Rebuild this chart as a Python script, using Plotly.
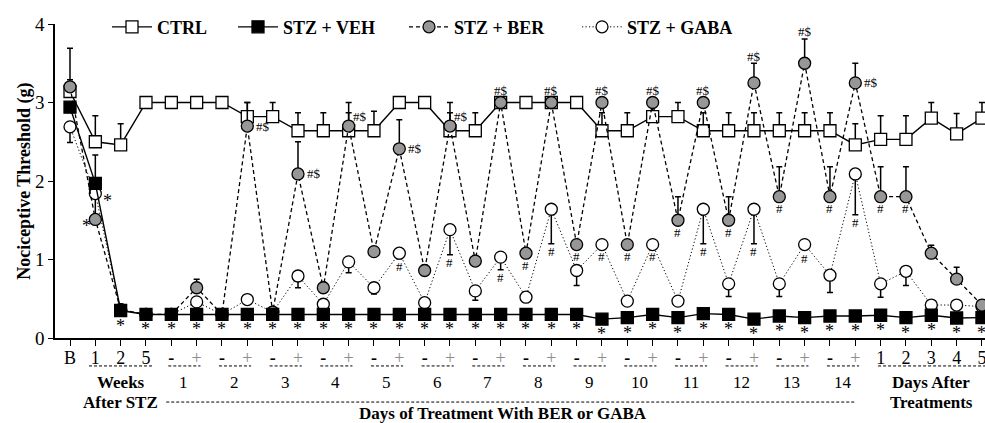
import plotly.graph_objects as go

# ---------------- data ----------------
x_labels = ["B", "1", "2", "5"] + ["-", "+"] * 14 + ["1", "2", "3", "4", "5"]
idx = list(range(len(x_labels)))

ctrl = [3.14, 2.50, 2.46, 3.00, 3.00, 3.00, 3.00, 2.82, 2.82, 2.64, 2.64, 2.64, 2.64,
        3.00, 3.00, 2.64, 2.64, 3.00, 3.00, 3.00, 3.00, 2.64, 2.64, 2.82, 2.82, 2.64,
        2.64, 2.64, 2.64, 2.64, 2.64, 2.46, 2.53, 2.53, 2.80, 2.60, 2.80]
ctrl_err = [0.15, 0.33, 0.27, 0, 0, 0, 0, 0.18, 0.18, 0.23, 0.23, 0.23, 0.25,
            0, 0, 0.23, 0.23, 0, 0, 0, 0, 0.23, 0.23, 0.18, 0.18, 0.23,
            0.23, 0.23, 0.23, 0.23, 0.23, 0.27, 0.30, 0.30, 0.20, 0.26, 0.20]

veh = [2.94, 1.97, 0.35, 0.30, 0.30, 0.30, 0.30, 0.30, 0.30, 0.30, 0.30, 0.30, 0.30,
       0.30, 0.30, 0.30, 0.30, 0.30, 0.30, 0.30, 0.30, 0.24, 0.26, 0.30, 0.26, 0.31,
       0.30, 0.24, 0.28, 0.26, 0.28, 0.28, 0.29, 0.26, 0.29, 0.255, 0.26]
veh_err = [0, 0.36] + [0] * 35

ber = [3.20, 1.51, 0.36, 0.30, 0.30, 0.64, 0.30, 2.70, 0.33, 2.09, 0.64, 2.70, 1.10,
       2.41, 0.86, 2.70, 0.98, 3.00, 1.08, 3.00, 1.19, 3.00, 1.19, 3.00, 1.50, 3.00,
       1.50, 3.25, 1.80, 3.50, 1.80, 3.25, 1.80, 1.80, 1.08, 0.75, 0.42]
ber_err = [0.49, 0, 0, 0, 0, 0.11, 0, 0.30, 0, 0.41, 0.07, 0.30, 0.05,
           0.37, 0.07, 0.30, 0.07, 0, 0.05, 0, 0, 0, 0, 0, 0.30, 0,
           0.30, 0.25, 0.38, 0.31, 0.38, 0.25, 0.38, 0.38, 0.10, 0.15, 0]

gaba = [2.69, 1.84, 0.36, 0.30, 0.30, 0.46, 0.30, 0.49, 0.33, 0.79, 0.43, 0.97, 0.64,
        1.08, 0.45, 1.38, 0.60, 1.03, 0.52, 1.64, 0.86, 1.19, 0.47, 1.19, 0.47, 1.64,
        0.69, 1.64, 0.69, 1.19, 0.80, 2.09, 0.69, 0.85, 0.42, 0.42, 0.40]
gaba_err = [0.20, 0.30, 0, 0, 0, 0, 0, 0, 0, 0.15, 0, 0.14, 0.08,
            0.07, 0, 0.32, 0.12, 0.16, 0, 0.44, 0.19, 0, 0, 0, 0, 0.44,
            0.16, 0.44, 0.16, 0.03, 0.22, 0.52, 0.17, 0.18, 0, 0, 0]

# significance labels: (index, text, placement)
ber_marks = [(7, "#$", "r"), (9, "#$", "r"), (11, "#$", "tr"), (13, "#$", "r"),
             (15, "#$", "tr"), (17, "#$", "t"), (19, "#$", "t"), (21, "#$", "t"),
             (23, "#$", "t"), (25, "#$", "t"), (27, "#$", "t"), (29, "#$", "t"),
             (31, "#$", "r"), (18, "#", "b"), (20, "#", "b"), (22, "#", "b"),
             (24, "#", "b"), (26, "#", "b"), (28, "#", "b"), (30, "#", "b"),
             (32, "#", "b"), (33, "#", "b")]
gaba_marks = [13, 15, 17, 19, 21, 23, 25, 27, 29, 31]
veh_star_from = 2

week_idx = [1, 2, 3]
day_names = [str(d) for d in range(1, 15)]
after_idx = [32, 33, 34, 35, 36]

SERIF = "Liberation Serif, Times New Roman, serif"
GRAY = "#979797"

# ---------------- figure ----------------
fig = go.Figure()
zeros = [0] * len(idx)

fig.add_trace(go.Scatter(
    x=idx, y=ctrl, mode="lines+markers", name="CTRL", legend="legend",
    line=dict(color="black", width=1.4),
    marker=dict(symbol="square", size=12, color="white", line=dict(color="black", width=1.3)),
    error_y=dict(type="data", symmetric=False, array=ctrl_err, arrayminus=zeros,
                 color="black", thickness=1.5, width=3),
    cliponaxis=False))

fig.add_trace(go.Scatter(
    x=idx, y=gaba, mode="lines+markers", name="STZ + GABA", legend="legend4",
    line=dict(color="black", width=1, dash="1.2px,2.3px"),
    marker=dict(symbol="circle", size=12, color="white", line=dict(color="black", width=1.3)),
    error_y=dict(type="data", symmetric=False, array=zeros, arrayminus=gaba_err,
                 color="black", thickness=1.5, width=3),
    cliponaxis=False))

fig.add_trace(go.Scatter(
    x=idx, y=ber, mode="lines+markers", name="STZ + BER", legend="legend3",
    line=dict(color="black", width=1.3, dash="4px,3px"),
    marker=dict(symbol="circle", size=12, color=GRAY, line=dict(color="black", width=1.3)),
    error_y=dict(type="data", symmetric=False, array=ber_err, arrayminus=zeros,
                 color="black", thickness=1.5, width=3),
    cliponaxis=False))

fig.add_trace(go.Scatter(
    x=idx, y=veh, mode="lines+markers", name="STZ + VEH", legend="legend2",
    line=dict(color="black", width=1.4),
    marker=dict(symbol="square", size=12, color="black", line=dict(color="black", width=1.3)),
    error_y=dict(type="data", symmetric=False, array=veh_err, arrayminus=zeros,
                 color="black", thickness=1.5, width=3),
    cliponaxis=False))

# ---------------- annotations ----------------
ann = []
small = dict(family=SERIF, size=13, color="black")

for i, txt, pos in ber_marks:
    if pos == "r":
        ann.append(dict(x=i, y=ber[i], text=txt, xanchor="left", yanchor="middle",
                        xshift=7, yshift=0, font=small))
    elif pos == "tr":
        ann.append(dict(x=i, y=ber[i], text=txt, xanchor="left", yanchor="middle",
                        xshift=2, yshift=10, font=small))
    elif pos == "t":
        ann.append(dict(x=i, y=ber[i] + ber_err[i], text=txt, xanchor="center", yanchor="middle",
                        yshift=12 if ber_err[i] == 0 else 7, font=small))
    else:
        ann.append(dict(x=i, y=ber[i], text=txt, xanchor="center", yanchor="middle",
                        yshift=-12, font=small))

for i in gaba_marks:
    ann.append(dict(x=i, y=gaba[i] - gaba_err[i], text="#", xanchor="center", yanchor="middle",
                    yshift=-12 if gaba_err[i] < 0.05 else -8, font=small))

star = dict(family=SERIF, size=18, color="black")
for i in idx[veh_star_from:]:
    ann.append(dict(x=i, y=veh[i], text="*", xanchor="center", yanchor="middle",
                    yshift=-15, font=star))
ann.append(dict(x=1, y=gaba[1], text="*", xanchor="center", yanchor="middle",
                xshift=12, yshift=-7, font=star))
ann.append(dict(x=1, y=ber[1], text="*", xanchor="center", yanchor="middle",
                xshift=-9, yshift=-7, font=star))

# group labels under the x axis
big = dict(family=SERIF, size=17, color="black")
bold = dict(family=SERIF, size=17, color="black", weight="bold")
Y_DASH, Y_ROW1, Y_ROW2, Y_ROW3 = -0.089, -0.143, -0.204, -0.24

shapes = []
def dash_line(x0, x1, y):
    shapes.append(dict(type="line", xref="x", yref="paper", x0=x0, x1=x1, y0=y, y1=y,
                       line=dict(color="black", width=1, dash="3px,2px")))

dash_line(week_idx[0] - 0.25, week_idx[-1] + 0.25, Y_DASH)
ann.append(dict(x=sum(week_idx) / len(week_idx), y=Y_ROW1, yref="paper", text="Weeks",
                xanchor="center", yanchor="middle", font=bold))
ann.append(dict(x=sum(week_idx) / len(week_idx), y=Y_ROW2, yref="paper", text="After STZ",
                xanchor="center", yanchor="middle", font=bold))

first_day = 4
for d, name in enumerate(day_names):
    a = first_day + 2 * d
    dash_line(a - 0.12, a + 1.15, Y_DASH)
    ann.append(dict(x=a + 0.5, y=Y_ROW1, yref="paper", text=name,
                    xanchor="center", yanchor="middle", font=big))
last_day = first_day + 2 * len(day_names) - 1
dash_line(first_day - 0.2, last_day, Y_ROW2)
ann.append(dict(x=17.1, y=Y_ROW3, yref="paper", text="Days of Treatment With BER or GABA",
                xanchor="center", yanchor="middle", font=bold))

dash_line(after_idx[0] - 0.1, after_idx[-1] + 0.2, Y_DASH)
ann.append(dict(x=sum(after_idx) / len(after_idx), y=Y_ROW1, yref="paper", text="Days After",
                xanchor="center", yanchor="middle", font=bold))
ann.append(dict(x=sum(after_idx) / len(after_idx), y=Y_ROW2, yref="paper", text="Treatments",
                xanchor="center", yanchor="middle", font=bold))

# y axis title
ann.append(dict(x=-0.0335, y=0.5, xref="paper", yref="paper", text="Nociceptive Threshold (g)",
                textangle=-90, xanchor="center", yanchor="middle",
                font=dict(family=SERIF, size=18, color="black", weight="bold")))

for a in ann:
    a.setdefault("xref", "x")
    a.setdefault("yref", "y")
    a["showarrow"] = False

tick_text = []
for t in x_labels:
    if t == "+":
        tick_text.append("<span style='color:#8c8c8c'>+</span>")
    elif t == "-":
        tick_text.append("<b>-</b>")
    else:
        tick_text.append(t)

leg_font = dict(family=SERIF, size=18, color="black", weight="bold")
def leg(xpx):
    return dict(x=(xpx - 55) / 930, y=0.99, xanchor="left", yanchor="middle",
                orientation="h", font=leg_font, bgcolor="rgba(0,0,0,0)", borderwidth=0,
                itemwidth=40)

fig.update_layout(
    width=985, height=423,
    margin=dict(l=55, r=0, t=24, b=85),
    paper_bgcolor="white", plot_bgcolor="white",
    font=dict(family=SERIF, color="black"),
    showlegend=True,
    legend=leg(107), legend2=leg(233), legend3=leg(404), legend4=leg(577),
    xaxis=dict(range=[-0.592, 36.12], tickvals=idx, ticktext=tick_text,
               showline=True, linecolor="black", linewidth=1.5,
               ticks="outside", ticklen=6, tickwidth=1.2, tickcolor="black",
               showgrid=False, zeroline=False, ticklabeloverflow="allow",
               ticklabelstandoff=-3,
               tickfont=dict(family=SERIF, size=18, color="black")),
    yaxis=dict(range=[0, 4], tickvals=[0, 1, 2, 3, 4],
               showline=True, linecolor="black", linewidth=1.5,
               ticks="outside", ticklen=5, tickwidth=1.2, tickcolor="black",
               showgrid=False, zeroline=False,
               tickfont=dict(family=SERIF, size=19, color="black")),
    annotations=ann, shapes=shapes,
)

fig.write_html("out.html")
